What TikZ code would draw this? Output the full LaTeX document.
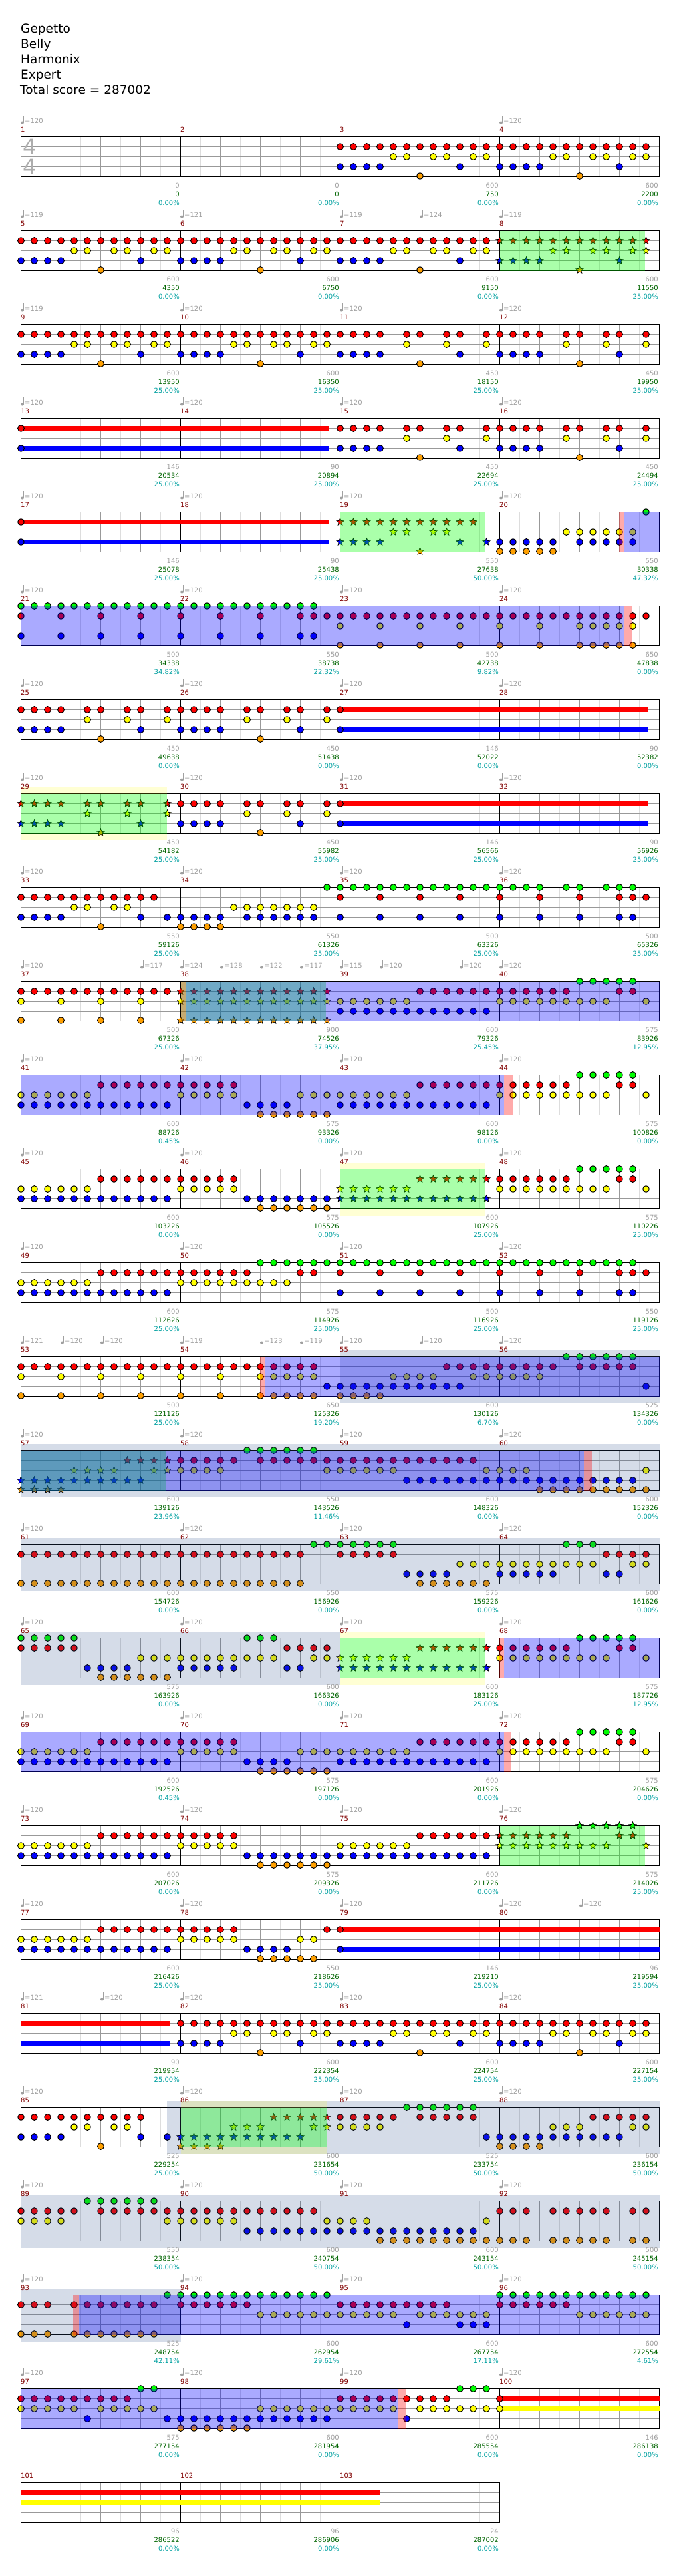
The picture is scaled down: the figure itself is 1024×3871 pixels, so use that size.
\documentclass[tikz,border=0pt]{standalone}
\usepackage{fontspec}
\setmainfont{DejaVu Sans}
\usetikzlibrary{shapes.geometric}
\definecolor{gemgreen}{RGB}{0,255,0}
\definecolor{gemred}{RGB}{255,0,0}
\definecolor{gemyellow}{RGB}{255,255,0}
\definecolor{gemblue}{RGB}{0,0,255}
\definecolor{gemorange}{RGB}{255,160,0}
\definecolor{gridgrey}{RGB}{153,153,153}
\definecolor{gridlight}{RGB}{221,221,221}
\definecolor{basegrey}{RGB}{160,160,160}
\definecolor{scoregreen}{RGB}{0,100,0}
\definecolor{pctteal}{RGB}{0,160,160}
\definecolor{barred}{RGB}{128,0,0}
\definecolor{slategrey}{RGB}{45,80,140}
\tikzset{
  gem/.style={draw=black,line width=1pt},
  starnote/.style={star,star points=5,star point ratio=2.2,draw=black,line width=.7pt,
                   minimum size=11.5pt,inner sep=0pt},
  small/.style={inner sep=0pt,font=\fontsize{10}{11}\selectfont},
  barnum/.style={small,anchor=base west,text=barred},
  basept/.style={small,anchor=base east,text=basegrey},
  scorept/.style={small,anchor=base east,text=scoregreen},
  pctpt/.style={small,anchor=base east,text=pctteal},
  temponum/.style={small,anchor=base west,text=basegrey},
  title/.style={inner sep=0pt,anchor=base west,font=\fontsize{18.5}{20}\selectfont},
  timesig/.style={inner sep=0pt,anchor=base,text=gridgrey!80!white,
                  font=\fontsize{32}{32}\selectfont},
  greenzone/.style={fill=gemgreen,fill opacity=.333},
  bluezone/.style={fill=gemblue,fill opacity=.333},
  redzone/.style={fill=gemred,fill opacity=.333},
  slatezone/.style={fill=slategrey,fill opacity=.2},
  yellowzone/.style={fill=gemyellow,fill opacity=.167}
}
\newcommand{\setrow}[1]{\pgfmathsetmacro\ry{205.5+141*(#1-1)}}
\newcommand{\staff}[2]{
  \setrow{#1}
  \foreach \j in {1,3,...,#2} \draw[gridlight,line width=1pt] ({31.5+30*\j},\ry) -- ++(0,60);
  \foreach \j in {0,2,...,#2} \draw[gridgrey,line width=1pt] ({31.5+30*\j},\ry) -- ++(0,60);
  \foreach \l in {15,30,45} \draw[gridgrey,line width=1pt] (31.5,\ry+\l) -- ({31.5+30*#2},\ry+\l);
  \foreach \j in {0,8,...,#2} \draw[black,line width=1pt] ({31.5+30*\j},\ry) -- ++(0,60);
  \draw[black,line width=1pt] (31.5,\ry) rectangle ({31.5+30*#2},\ry+60);
}
\newcommand{\gems}[3]{\foreach \a/\b in {#3}{\foreach \k in {\a,...,\b}{
  \filldraw[gem,fill=#1] ({31.5+20*\k},\ry+#2) circle[radius=4.85pt];}}}
\newcommand{\stars}[3]{\foreach \a/\b in {#3}{\foreach \k in {\a,...,\b}{
  \node[starnote,fill=#1] at ({31.5+20*\k},\ry+#2) {};}}}
\newcommand{\gemG}[1]{\gems{gemgreen}{0}{#1}}
\newcommand{\gemR}[1]{\gems{gemred}{15}{#1}}
\newcommand{\gemY}[1]{\gems{gemyellow}{30}{#1}}
\newcommand{\gemB}[1]{\gems{gemblue}{45}{#1}}
\newcommand{\gemO}[1]{\gems{gemorange}{59}{#1}}
\newcommand{\starG}[1]{\stars{gemgreen}{0}{#1}}
\newcommand{\starR}[1]{\stars{gemred}{15}{#1}}
\newcommand{\starY}[1]{\stars{gemyellow}{30}{#1}}
\newcommand{\starB}[1]{\stars{gemblue}{45}{#1}}
\newcommand{\starO}[1]{\stars{gemorange}{59}{#1}}
\newcommand{\hold}[4]{\fill[#1] (#3,\ry+#2-3.5) rectangle (#4,\ry+#2+3.5);}
\newcommand{\zone}[3]{\fill[#1] (#2,\ry) rectangle (#3,\ry+60);}
\newcommand{\slate}[2]{\fill[slatezone] (#1,\ry-10) rectangle (#2,\ry+70);}
\newcommand{\band}[2]{\fill[yellowzone] (#1,\ry-10) rectangle (#2,\ry);
  \fill[yellowzone] (#1,\ry+60) rectangle (#2,\ry+70);}
\newcommand{\tempo}[3]{
  \setrow{#1}
  \pgfmathsetmacro\tx{31.5+20*#2}
  \fill[basegrey] (\tx+2,\ry-21) ellipse[x radius=2.5pt,y radius=2pt];
  \draw[basegrey,line width=.8pt] (\tx+4,\ry-21) -- (\tx+4,\ry-31.5);
  \node[temponum] at (\tx+5.5,\ry-20) {=#3};
}
\begin{document}
\begin{tikzpicture}[x=1pt,y=-1pt]
  \useasboundingbox (0,0) rectangle (1024,3871);
  \node[title] (song)   at (31,49)  {Gepetto};
  \node[title] (artist) at (31,72)  {Belly};
  \node[title] (charter) at (31,95) {Harmonix};
  \node[title] (level)  at (31,118) {Expert};
  \node[title] (total)  at (30,141) {Total score = 287002};

  \foreach \r in {1,...,25} {\staff{\r}{32}}
  \staff{26}{24}
  \node[timesig] (ts1) at (44.5,232.5) {4};
  \node[timesig] (ts2) at (44.5,262.5) {4};

  \setrow{1}
  \gemR{24/47}
  \gemY{28,29,31,32,34,35,40,41,43,44,46,47}
  \gemB{24/27,33,36/39,45}
  \gemO{30,42}

  \setrow{2}
  \gemR{0/35}
  \gemY{4,5,7,8,10,11,16,17,19,20,22,23,28,29,31,32,34,35}
  \gemB{0/3,9,12/15,21,24/27,33}
  \gemO{6,18,30}
  \starR{36/47}
  \starY{40,41,43,44,46,47}
  \starB{36/39,45}
  \starO{42}
  \zone{greenzone}{751.5}{970}

  \setrow{3}
  \gemR{0/27,29,30,32,33,35/39,41,42,44,45,47}
  \gemY{4,5,7,8,10,11,16,17,19,20,22,23,29,32,35,41,44,47}
  \gemB{0/3,9,12/15,21,24/27,33,36/39,45}
  \gemO{6,18,30,42}

  \setrow{4}
  \hold{gemred}{15}{31.5}{495}
  \hold{gemblue}{45}{31.5}{495}
  \gemR{0,24/27,29,30,32,33,35/39,41,42,44,45,47}
  \gemY{29,32,35,41,44,47}
  \gemB{0,24/27,33,36/39,45}
  \gemO{30,42}

  \setrow{5}
  \hold{gemred}{15}{31.5}{495}
  \hold{gemblue}{45}{31.5}{495}
  \gemR{0}
  \gemB{0,36/40,42/46}
  \gemY{41/46}
  \gemO{36/40}
  \gemG{47}
  \starR{24/34}
  \starY{28,29,31,32}
  \starB{24/27,33,35}
  \starO{30}
  \zone{greenzone}{511.5}{729.5}
  \zone{redzone}{930.5}{938}
  \zone{bluezone}{938}{991.5}

  \setrow{6}
  \gemG{0/22}
  \gemR{0,3,6,9,12,15,18,21/47}
  \gemY{24,27,30,33,36,39,42/46}
  \gemB{0,3,6,9,12,15,18,21,22}
  \gemO{24,27,30,33,36,39,42/46}
  \zone{bluezone}{31.5}{938}
  \zone{redzone}{938}{949.5}

  \setrow{7}
  \hold{gemred}{15}{511.5}{975}
  \hold{gemblue}{45}{511.5}{975}
  \gemR{0/3,5,6,8,9,11/15,17,18,20,21,23,24}
  \gemY{5,8,11,17,20,23}
  \gemB{0/3,9,12/15,21,24}
  \gemO{6,18}

  \setrow{8}
  \hold{gemred}{15}{511.5}{975}
  \hold{gemblue}{45}{511.5}{975}
  \starR{0/3,5,6,8,9,11}
  \starY{5,8,11}
  \starB{0/3,9}
  \starO{6}
  \gemR{12/15,17,18,20,21,23,24}
  \gemY{17,20,23}
  \gemB{12/15,21,24}
  \gemO{18}
  \band{31.5}{250.5}
  \zone{greenzone}{31.5}{250.5}

  \setrow{9}
  \gemG{23/39,41,42,44,45,46}
  \gemR{0/10,24,27,30,33,36,39,42,45,46,47}
  \gemY{4,5,7,8,16/22}
  \gemB{0/3,9,11/15,17/22,24,27,30,33,36,39,42,45,46}
  \gemO{6,12/15}

  \setrow{10}
  \gemG{42/46}
  \gemR{0/11,30/41,45,46}
  \gemY{0,3,6,9,24/29,36/44,47}
  \gemB{24/35}
  \gemO{0,3,6,9}
  \starR{12/23}
  \starY{12/23}
  \starO{12/23}
  \zone{greenzone}{271.5}{489.5}
  \zone{redzone}{271.5}{278.5}
  \zone{bluezone}{278.5}{991.5}

  \setrow{11}
  \gemG{42/46}
  \gemR{6/16,30/41,45,46}
  \gemY{0/5,12/16,21/29,36/44,47}
  \gemB{0/11,17/20,24/35}
  \gemO{18/23}
  \zone{bluezone}{31.5}{758}
  \zone{redzone}{758}{770.5}

  \setrow{12}
  \gemG{42/46}
  \gemR{6/16,36/41,45,46}
  \gemY{0/5,12/16,36/44,47}
  \gemB{0/11,17/23}
  \gemO{18/23}
  \starR{30/35}
  \starY{24/29}
  \starB{24/35}
  \band{511.5}{729.5}
  \zone{greenzone}{511.5}{729.5}

  \setrow{13}
  \gemG{18/46}
  \gemR{6/17,21,22,24,27,30,33,36,39,42,45,46,47}
  \gemY{0/5,12/20}
  \gemB{0/11,24,27,30,33,36,39,42,45,46}

  \setrow{14}
  \gemG{41/46}
  \gemR{0/22,32/40,42/46}
  \gemY{0,3,6,9,12,15,18/22,28/31,34/39}
  \gemB{23/33,47}
  \gemO{0,3,6,9,12,15,18/22,24/27}
  \slate{511.5}{991.5}
  \zone{redzone}{391}{398.5}
  \zone{bluezone}{398.5}{991.5}

  \setrow{15}
  \gemG{17/22}
  \gemR{12/16,18/34}
  \gemY{12/15,23/28,35/38,47}
  \gemB{29/46}
  \gemO{39/47}
  \starR{8/11}
  \starY{4/7,10,11}
  \starB{0/9}
  \starO{0/3}
  \slate{31.5}{991.5}
  \zone{greenzone}{31.5}{250}
  \zone{bluezone}{31.5}{878}
  \zone{redzone}{878}{890}

  \setrow{16}
  \gemG{22/28,41/43}
  \gemR{0/21,24/28,44/47}
  \gemY{33/43,46,47}
  \gemB{29/32,36/40,44,45}
  \gemO{0/21,30/35}
  \slate{31.5}{991.5}

  \setrow{17}
  \gemG{0/4,17/19,42/46}
  \gemR{0/4,20/23,36/41,45,46}
  \gemY{9/19,22,23,36/44,47}
  \gemB{5/8,12/16,20,21}
  \gemO{6/11}
  \starR{30/35}
  \starY{24/29}
  \starB{24/35}
  \slate{31.5}{511.5}
  \band{511.5}{730}
  \zone{greenzone}{511.5}{730}
  \zone{redzone}{750}{758}
  \zone{bluezone}{758}{991.5}

  \setrow{18}
  \gemG{42/46}
  \gemR{6/16,30/41,45,46}
  \gemY{0/5,12/16,21/29,36/44,47}
  \gemB{0/11,17/20,24/35}
  \gemO{18/23}
  \zone{bluezone}{31.5}{758}
  \zone{redzone}{758}{769}

  \setrow{19}
  \gemR{6/16,30/35}
  \gemY{0/5,12/16,24/29}
  \gemB{0/11,17/35}
  \gemO{18/23}
  \starG{42/46}
  \starR{36/41,45,46}
  \starY{36/44,47}
  \zone{greenzone}{751.5}{970}

  \setrow{20}
  \hold{gemred}{15}{511.5}{991.5}
  \hold{gemblue}{45}{511.5}{991.5}
  \gemR{6/16,23,24}
  \gemY{0/5,12/16,21,22}
  \gemB{0/11,17/20,24}
  \gemO{18/22}

  \setrow{21}
  \hold{gemred}{15}{31.5}{256}
  \hold{gemblue}{45}{31.5}{256}
  \gemR{12/47}
  \gemY{16,17,19,20,22,23,28,29,31,32,34,35,40,41,43,44,46,47}
  \gemB{12/15,21,24/27,33,36/39,45}
  \gemO{18,30,42}

  \setrow{22}
  \gemG{29/34}
  \gemR{0/9,24/28,30/34,43/47}
  \gemY{4,5,7,8,24/27,40/42,46,47}
  \gemB{0/3,9,11,35/45}
  \gemO{6,36/39}
  \starR{19/23}
  \starY{16/18,22,23}
  \starB{12/21}
  \starO{12/15}
  \slate{250.5}{991.5}
  \band{271.5}{491}
  \zone{greenzone}{271.5}{491}

  \setrow{23}
  \gemG{5/10}
  \gemR{0/4,6/22,36/38,40/44,46,47}
  \gemY{0/3,11/16,23/26,35}
  \gemB{17/34}
  \gemO{27/38,40/44,46,47}
  \slate{31.5}{991.5}

  \setrow{24}
  \gemG{11/23,36/47}
  \gemR{0/2,4/10,12/17,24/32,36/41}
  \gemY{18/28,30/35,42/47}
  \gemB{29,33/35}
  \gemO{0/2,4/10}
  \slate{31.5}{271.5}
  \zone{redzone}{110}{119}
  \zone{bluezone}{119}{991.5}

  \setrow{25}
  \hold{gemred}{15}{751.5}{991.5}
  \hold{gemyellow}{30}{751.5}{991.5}
  \gemG{9,10,33/35}
  \gemR{0/8,24/32,36}
  \gemY{0/4,6/10,18/28,30/36}
  \gemB{5,11/23,29}
  \gemO{12/17}
  \zone{bluezone}{31.5}{599}
  \zone{redzone}{599}{611}

  \setrow{26}
  \hold{gemred}{15}{31.5}{571}
  \hold{gemyellow}{30}{31.5}{571}

  \foreach \r/\k/\v in {1/0/120,1/36/120,
      2/0/119,2/12/121,2/24/119,2/30/124,2/36/119,
      3/0/119,3/12/120,3/24/120,3/36/120,
      10/0/120,10/9/117,10/12/124,10/15/128,10/18/122,10/21/117,10/24/115,10/27/120,10/33/120,10/36/120,
      14/0/121,14/3/120,14/6/120,14/12/119,14/18/123,14/21/119,14/24/120,14/30/120,14/36/120,
      20/0/120,20/12/120,20/24/120,20/36/120,20/42/120,
      21/0/121,21/6/120,21/12/120,21/24/120,21/36/120} {\tempo{\r}{\k}{\v}}
  \foreach \r in {4,5,6,7,8,9,11,12,13,15,16,17,18,19,22,23,24,25}
    \foreach \k in {0,12,24,36} {\tempo{\r}{\k}{120}}

  \foreach \b/\g/\s/\p in {1/0/0/0.00,2/0/0/0.00,3/600/750/0.00,4/600/2200/0.00,
      5/600/4350/0.00,6/600/6750/0.00,7/600/9150/0.00,8/600/11550/25.00,
      9/600/13950/25.00,10/600/16350/25.00,11/450/18150/25.00,12/450/19950/25.00,
      13/146/20534/25.00,14/90/20894/25.00,15/450/22694/25.00,16/450/24494/25.00,
      17/146/25078/25.00,18/90/25438/25.00,19/550/27638/50.00,20/550/30338/47.32,
      21/500/34338/34.82,22/550/38738/22.32,23/500/42738/9.82,24/650/47838/0.00,
      25/450/49638/0.00,26/450/51438/0.00,27/146/52022/0.00,28/90/52382/0.00,
      29/450/54182/25.00,30/450/55982/25.00,31/146/56566/25.00,32/90/56926/25.00,
      33/550/59126/25.00,34/550/61326/25.00,35/500/63326/25.00,36/500/65326/25.00,
      37/500/67326/25.00,38/900/74526/37.95,39/600/79326/25.45,40/575/83926/12.95,
      41/600/88726/0.45,42/575/93326/0.00,43/600/98126/0.00,44/575/100826/0.00,
      45/600/103226/0.00,46/575/105526/0.00,47/600/107926/25.00,48/575/110226/25.00,
      49/600/112626/25.00,50/575/114926/25.00,51/500/116926/25.00,52/550/119126/25.00,
      53/500/121126/25.00,54/650/125326/19.20,55/600/130126/6.70,56/525/134326/0.00,
      57/600/139126/23.96,58/550/143526/11.46,59/600/148326/0.00,60/600/152326/0.00,
      61/600/154726/0.00,62/550/156926/0.00,63/575/159226/0.00,64/600/161626/0.00,
      65/575/163926/0.00,66/600/166326/0.00,67/600/183126/25.00,68/575/187726/12.95,
      69/600/192526/0.45,70/575/197126/0.00,71/600/201926/0.00,72/575/204626/0.00,
      73/600/207026/0.00,74/575/209326/0.00,75/600/211726/0.00,76/575/214026/25.00,
      77/600/216426/25.00,78/550/218626/25.00,79/146/219210/25.00,80/96/219594/25.00,
      81/90/219954/25.00,82/600/222354/25.00,83/600/224754/25.00,84/600/227154/25.00,
      85/525/229254/25.00,86/600/231654/50.00,87/525/233754/50.00,88/600/236154/50.00,
      89/550/238354/50.00,90/600/240754/50.00,91/600/243154/50.00,92/500/245154/50.00,
      93/525/248754/42.11,94/600/262954/29.61,95/600/267754/17.11,96/600/272554/4.61,
      97/575/277154/0.00,98/600/281954/0.00,99/600/285554/0.00,100/146/286138/0.00,
      101/96/286522/0.00,102/96/286906/0.00,103/24/287002/0.00} {
    \pgfmathtruncatemacro\r{int((\b-1)/4)}
    \pgfmathtruncatemacro\c{\b-1-4*\r}
    \pgfmathsetmacro\bx{31+240*\c}
    \pgfmathsetmacro\by{205.5+141*\r}
    \node[barnum] (bar\b) at (\bx,\by-7) {\b};
    \node[basept] (base\b) at (\bx+239,\by+76.5) {\g};
    \node[scorept] (score\b) at (\bx+239,\by+89.5) {\s};
    \node[pctpt] (pct\b) at (\bx+239,\by+102.5) {\p\%};
  }
\end{tikzpicture}
\end{document}
